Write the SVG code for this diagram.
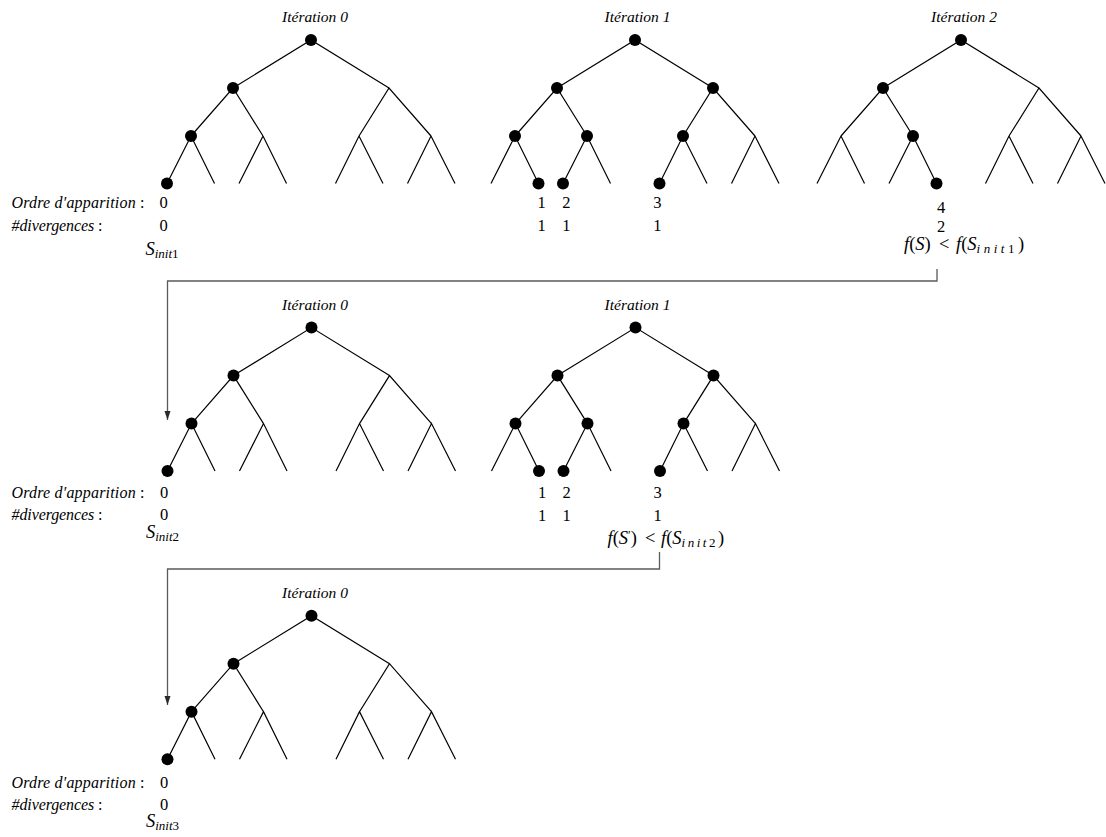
<svg xmlns="http://www.w3.org/2000/svg" xmlns:xlink="http://www.w3.org/1999/xlink" width="1106" height="837" viewBox="0 0 1106 837">
<style>
.e{fill:none;stroke:#000;stroke-width:1.2}
.d{fill:#000}
.t{font-family:"Liberation Serif","Times New Roman",serif;font-size:16px;fill:#000}
.m{font-family:"Liberation Serif","Times New Roman",serif;font-size:18.5px;fill:#000}
.it{font-style:italic}
.ttl{font-family:"Liberation Serif","Times New Roman",serif;font-size:15.5px;font-style:italic;text-anchor:middle;fill:#000}
.n{font-family:"Liberation Serif","Times New Roman",serif;font-size:16.5px;text-anchor:middle;fill:#000}
.sb{font-size:13px}
.ls{letter-spacing:3.5px}
.c{fill:none;stroke:#5a5a5a;stroke-width:1.3}
</style>
<defs>
<path id="tree" class="e" d="M-78,48 L0,0 L78,48 M-120,96 L-78,48 L-48,96 M48,96 L78,48 L120,96 M-144,143.5 L-120,96 L-96.5,143.5 M-72,143.5 L-48,96 L-24.5,143.5 M24.5,143.5 L48,96 L72,143.5 M96.5,143.5 L120,96 L144,143.5"/>
<circle id="dot" class="d" r="6"/>
<marker id="ah" markerUnits="userSpaceOnUse" markerWidth="9" markerHeight="10" refX="9" refY="3" orient="auto">
<path d="M0,0 L9,3 L0,6 Z" fill="#2a2a2a"/>
</marker>
</defs>

<g id="connectors">
<path class="c" d="M937,269 V281 H167.5 V420" marker-end="url(#ah)"/>
<path class="c" d="M659.5,552 V569 H167.5 V705" marker-end="url(#ah)"/>
</g>

<!-- Row 1 -->
<g id="r1-tree0">
<text class="ttl" x="315" y="21.5">Itération 0</text>
<use xlink:href="#tree" href="#tree" transform="translate(311,40)"/>
<g transform="translate(311,40)">
<use href="#dot" xlink:href="#dot" x="0" y="0"/><use href="#dot" xlink:href="#dot" x="-78" y="48"/><use href="#dot" xlink:href="#dot" x="-120" y="96"/><use href="#dot" xlink:href="#dot" x="-144" y="143.5"/>
</g>
</g>
<g id="r1-labels">
<text class="t it" x="11.5" y="208" textLength="133" lengthAdjust="spacing">Ordre d′apparition<tspan font-style="normal"> :</tspan></text>
<text class="t it" x="11.5" y="231" textLength="91" lengthAdjust="spacing">#divergences<tspan font-style="normal"> :</tspan></text>
<text class="n" x="163.5" y="208">0</text>
<text class="n" x="163.5" y="231">0</text>
<text class="m" x="145.5" y="255"><tspan class="it">S</tspan><tspan class="it sb" dy="3">init</tspan><tspan class="sb">1</tspan></text>
</g>

<g id="r1-tree1">
<text class="ttl" x="637.5" y="21.5">Itération 1</text>
<use xlink:href="#tree" href="#tree" transform="translate(635,40)"/>
<g transform="translate(635,40)">
<use href="#dot" xlink:href="#dot" x="0" y="0"/><use href="#dot" xlink:href="#dot" x="-78" y="48"/><use href="#dot" xlink:href="#dot" x="78" y="48"/>
<use href="#dot" xlink:href="#dot" x="-120" y="96"/><use href="#dot" xlink:href="#dot" x="-48" y="96"/><use href="#dot" xlink:href="#dot" x="48" y="96"/>
<use href="#dot" xlink:href="#dot" x="-96.5" y="143.5"/><use href="#dot" xlink:href="#dot" x="-72" y="143.5"/><use href="#dot" xlink:href="#dot" x="24.5" y="143.5"/>
</g>
<text class="n" x="541.7" y="208">1</text><text class="n" x="566.3" y="208">2</text><text class="n" x="657.3" y="208">3</text>
<text class="n" x="541.7" y="231">1</text><text class="n" x="566.3" y="231">1</text><text class="n" x="657.3" y="231">1</text>
</g>

<g id="r1-tree2">
<text class="ttl" x="964" y="21.5">Itération 2</text>
<use xlink:href="#tree" href="#tree" transform="translate(961,40)"/>
<g transform="translate(961,40)">
<use href="#dot" xlink:href="#dot" x="0" y="0"/><use href="#dot" xlink:href="#dot" x="-78" y="48"/><use href="#dot" xlink:href="#dot" x="-48" y="96"/><use href="#dot" xlink:href="#dot" x="-24.5" y="143.5"/>
</g>
<text class="n" x="941" y="213">4</text>
<text class="n" x="941" y="232">2</text>
<text class="m" y="250"><tspan class="it" x="904">f</tspan>(<tspan class="it">S</tspan>)<tspan x="939">&lt;</tspan><tspan class="it" x="956">f</tspan>(<tspan class="it">S</tspan><tspan class="it sb ls" dy="3">init</tspan><tspan class="sb ls">1</tspan><tspan dy="-3">)</tspan></text>
</g>

<!-- Row 2 -->
<g id="r2-tree0">
<text class="ttl" x="315" y="309.5">Itération 0</text>
<use xlink:href="#tree" href="#tree" transform="translate(311.5,327.6)"/>
<g transform="translate(311.5,327.6)">
<use href="#dot" xlink:href="#dot" x="0" y="0"/><use href="#dot" xlink:href="#dot" x="-78" y="48"/><use href="#dot" xlink:href="#dot" x="-120" y="96"/><use href="#dot" xlink:href="#dot" x="-144" y="143.5"/>
</g>
</g>
<g id="r2-labels">
<text class="t it" x="11.5" y="497.5" textLength="133" lengthAdjust="spacing">Ordre d′apparition<tspan font-style="normal"> :</tspan></text>
<text class="t it" x="11.5" y="520" textLength="91" lengthAdjust="spacing">#divergences<tspan font-style="normal"> :</tspan></text>
<text class="n" x="164" y="497.5">0</text>
<text class="n" x="164" y="520">0</text>
<text class="m" x="146" y="538"><tspan class="it">S</tspan><tspan class="it sb" dy="3">init</tspan><tspan class="sb">2</tspan></text>
</g>

<g id="r2-tree1">
<text class="ttl" x="637.5" y="309.5">Itération 1</text>
<use xlink:href="#tree" href="#tree" transform="translate(635.5,327.6)"/>
<g transform="translate(635.5,327.6)">
<use href="#dot" xlink:href="#dot" x="0" y="0"/><use href="#dot" xlink:href="#dot" x="-78" y="48"/><use href="#dot" xlink:href="#dot" x="78" y="48"/>
<use href="#dot" xlink:href="#dot" x="-120" y="96"/><use href="#dot" xlink:href="#dot" x="-48" y="96"/><use href="#dot" xlink:href="#dot" x="48" y="96"/>
<use href="#dot" xlink:href="#dot" x="-96.5" y="143.5"/><use href="#dot" xlink:href="#dot" x="-72" y="143.5"/><use href="#dot" xlink:href="#dot" x="24.5" y="143.5"/>
</g>
<text class="n" x="542" y="497.5">1</text><text class="n" x="566.5" y="497.5">2</text><text class="n" x="657.5" y="497.5">3</text>
<text class="n" x="542" y="521">1</text><text class="n" x="566.5" y="521">1</text><text class="n" x="657.5" y="521">1</text>
<text class="m" y="544"><tspan class="it" x="607.5">f</tspan>(<tspan class="it">S</tspan><tspan dy="-5" font-size="12">′</tspan><tspan dy="5">)</tspan><tspan x="645">&lt;</tspan><tspan class="it" x="661">f</tspan>(<tspan class="it">S</tspan><tspan class="it sb" dy="3" style="letter-spacing:2.5px">init</tspan><tspan class="sb" style="letter-spacing:2.5px">2</tspan><tspan dy="-3">)</tspan></text>
</g>

<!-- Row 3 -->
<g id="r3-tree0">
<text class="ttl" x="315" y="597.5">Itération 0</text>
<use xlink:href="#tree" href="#tree" transform="translate(311.5,615.7)"/>
<g transform="translate(311.5,615.7)">
<use href="#dot" xlink:href="#dot" x="0" y="0"/><use href="#dot" xlink:href="#dot" x="-78" y="48"/><use href="#dot" xlink:href="#dot" x="-120" y="96"/><use href="#dot" xlink:href="#dot" x="-144" y="143.5"/>
</g>
</g>
<g id="r3-labels">
<text class="t it" x="11.5" y="787.5" textLength="133" lengthAdjust="spacing">Ordre d′apparition<tspan font-style="normal"> :</tspan></text>
<text class="t it" x="11.5" y="810" textLength="91" lengthAdjust="spacing">#divergences<tspan font-style="normal"> :</tspan></text>
<text class="n" x="164" y="787.5">0</text>
<text class="n" x="164" y="810">0</text>
<text class="m" x="146" y="827"><tspan class="it">S</tspan><tspan class="it sb" dy="3">init</tspan><tspan class="sb">3</tspan></text>
</g>
</svg>
